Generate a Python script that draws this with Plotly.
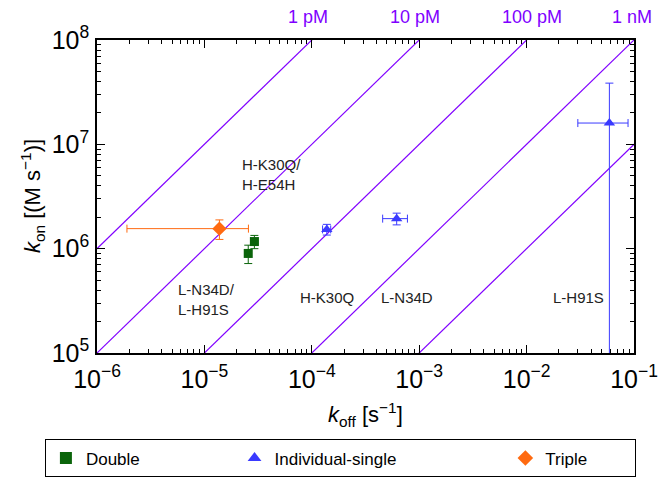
import plotly.graph_objects as go
import numpy as np

# ---- data ----
double_koff = [2.56e-5, 2.92e-5]
double_kon = [0.90e6, 1.17e6]
double_koff_err = [0.10e-5, 0.23e-5]
double_kon_err = [0.18e6, 0.17e6]

single_koff = [1.38e-4, 6.17e-4, 5.9e-2]
single_kon = [1.53e6, 1.94e6, 1.6e7]
single_koff_err = [0.12e-4, 1.6e-4, 2.9e-2]
single_kon_err = [0.18e6, 0.25e6, 2.26e7]

triple_koff = [1.38e-5]
triple_kon = [1.556e6]
triple_koff_err = [1.19e-5]
triple_kon_err = [0.33e6]

kd_values = [1e-12, 1e-11, 1e-10, 1e-9, 1e-8]
kd_labels = ["1 pM", "10 pM", "100 pM", "1 nM", None]
kd_line_koff = [1e-7, 1.0]

labels_text = ["H-K30Q/<br>H-E54H", "L-N34D/<br>L-H91S", "H-K30Q", "L-N34D", "L-H91S"]
labels_koff = [10**-4.371, 10**-4.976, 10**-3.858, 10**-3.114, 10**-1.521]
labels_kon = [10**6.711, 10**5.517, 10**5.536, 10**5.536, 10**5.536]

series_names = ["Double", "Individual-single", "Triple"]
x_title = "<i>k</i><sub>off</sub> [s<sup>−1</sup>]"
y_title = "<i>k</i><sub>on</sub> [(M s<sup>−1</sup>)]"

PURPLE = "#8000ff"
GREEN = "#0a640a"
BLUE = "#3a3aff"
ORANGE = "#ff6a10"
FONT = "Liberation Sans, Arial, sans-serif"
NB = "\u00a0"

fig = go.Figure()

for kd in kd_values:
    fig.add_trace(go.Scatter(
        x=kd_line_koff, y=[k / kd for k in kd_line_koff], mode="lines",
        line=dict(color=PURPLE, width=1.2), showlegend=False, hoverinfo="skip"))

def err(color, xe, ye):
    return (dict(type="data", array=xe, color=color, thickness=1, width=4),
            dict(type="data", array=ye, color=color, thickness=1, width=4))

pads = [NB * 19, NB * 22, NB * 9]

ex, ey = err(GREEN, double_koff_err, double_kon_err)
fig.add_trace(go.Scatter(x=double_koff, y=double_kon, mode="markers", name=series_names[0] + pads[0],
                         marker=dict(symbol="square", size=9, color=GREEN),
                         error_x=ex, error_y=ey))
ex, ey = err(BLUE, single_koff_err, single_kon_err)
fig.add_trace(go.Scatter(x=single_koff, y=single_kon, mode="markers", name=series_names[1] + pads[1],
                         marker=dict(symbol="triangle-up", size=10, color=BLUE),
                         error_x=ex, error_y=ey))
ex, ey = err(ORANGE, triple_koff_err, triple_kon_err)
fig.add_trace(go.Scatter(x=triple_koff, y=triple_kon, mode="markers", name=series_names[2] + pads[2],
                         marker=dict(symbol="diamond", size=11, color=ORANGE),
                         error_x=ex, error_y=ey))

for t, x, y in zip(labels_text, labels_koff, labels_kon):
    fig.add_annotation(x=np.log10(x), y=np.log10(y), text=t, showarrow=False,
                       font=dict(size=15, color="#222222", family=FONT), align="left")

label_x = [-4.04, -3.04, -1.95, -1.02]
for lab, lx in zip(kd_labels, label_x):
    if lab:
        fig.add_annotation(x=lx, xref="x", y=1.073, yref="paper", text=lab, showarrow=False,
                           font=dict(size=18, color=PURPLE, family=FONT), yanchor="middle")

# axis titles
fig.add_annotation(x=0.5, xref="paper", y=-0.195, yref="paper", text=x_title, showarrow=False,
                   font=dict(size=22, color="black", family=FONT), yanchor="middle")
fig.add_annotation(x=-0.12, xref="paper", y=0.5, yref="paper", text=y_title, showarrow=False,
                   textangle=-90, font=dict(size=22, color="black", family=FONT), xanchor="center")

axis_common = dict(type="log", showgrid=False, zeroline=False, showline=True, linecolor="black",
                   linewidth=1.5, mirror="allticks", ticks="inside", ticklen=8, tickcolor="black",
                   tickwidth=1.2, dtick=1, exponentformat="power", showexponent="all",
                   layer="above traces", automargin=False,
                   minor=dict(ticks="inside", ticklen=4, tickcolor="black", tickwidth=1,
                              showgrid=False),
                   tickfont=dict(size=20, color="black", family=FONT))

fig.update_xaxes(**axis_common, range=[-6, -1], ticklabelstandoff=4)
fig.update_yaxes(**axis_common, range=[5, 8], ticklabelstandoff=2)

fig.update_layout(
    template="simple_white",
    width=662, height=488,
    margin=dict(l=97, r=28, t=40, b=134),
    plot_bgcolor="white", paper_bgcolor="white",
    font=dict(family=FONT, color="black"),
    legend=dict(orientation="h", x=-0.097, xanchor="left", y=-0.272, yanchor="top",
                bordercolor="black", borderwidth=1, font=dict(size=17, color="black", family=FONT),
                itemsizing="constant"),
)

fig.write_html("out.html")
